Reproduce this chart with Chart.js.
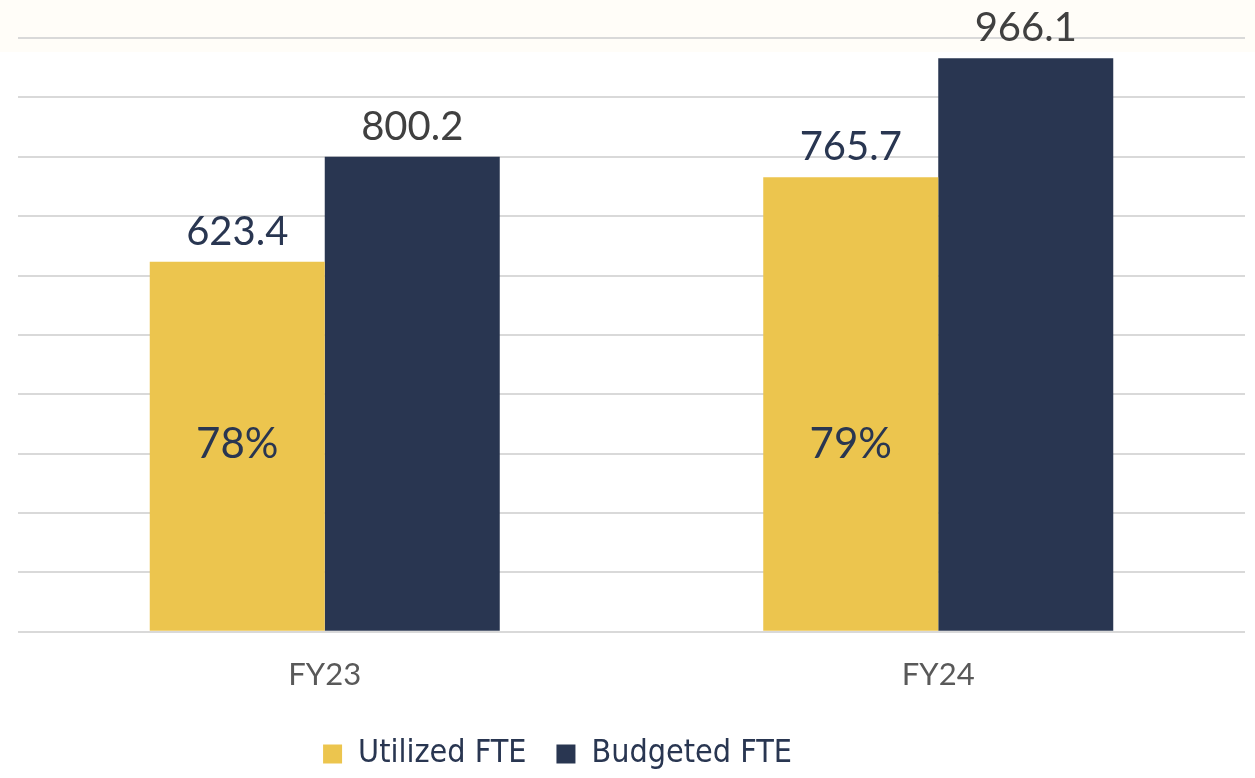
<!DOCTYPE html>
<html>
<head>
<meta charset="utf-8">
<script src="https://cdn.jsdelivr.net/npm/chart.js@4"></script>
<style>
  html, body { margin: 0; padding: 0; }
  body { width: 1255px; height: 778px; background: linear-gradient(to bottom, #fffdf8 0px, #fffdf8 52px, #ffffff 52px); }
  #wrap { position: relative; width: 1255px; height: 778px; }
</style>
</head>
<body>
<div id="wrap"><canvas id="c" width="1255" height="778"></canvas></div>
<script>
const categories = ['FY23', 'FY24'];
const utilizedFTE = [623.4, 765.7];
const budgetedFTE = [800.2, 966.1];
const utilizationPct = ['78%', '79%'];
const seriesNames = ['Utilized FTE', 'Budgeted FTE'];

const GOLD = '#ecc54e';
const NAVY = '#293651';
const GRAY = '#404040';
const FONT = "'DejaVu Sans Condensed', 'Liberation Sans Narrow', 'Lato', sans-serif";
const NUMFONT = "'Lato', 'Liberation Sans', sans-serif";

const labelPlugin = {
  id: 'labels',
  afterLayout(chart) {
    const lg = chart.legend;
    if (lg) {
      lg.left -= 74; lg.right -= 74;
      lg.top += 2; lg.bottom += 2;
    }
  },
  afterDatasetsDraw(chart) {
    const ctx = chart.ctx;
    const yScale = chart.scales.y;
    ctx.save();
    ctx.textAlign = 'center';
    ctx.textBaseline = 'bottom';
    ctx.font = '40px ' + NUMFONT;
    chart.data.datasets.forEach((ds, di) => {
      const meta = chart.getDatasetMeta(di);
      meta.data.forEach((bar, i) => {
        ctx.fillStyle = di === 0 ? NAVY : GRAY;
        ctx.fillText(ds.data[i].toFixed(1), bar.x, bar.y - 10);
      });
    });
    const m0 = chart.getDatasetMeta(0);
    ctx.textBaseline = 'middle';
    ctx.font = '42px ' + NUMFONT;
    ctx.fillStyle = NAVY;
    m0.data.forEach((bar, i) => {
      ctx.fillText(utilizationPct[i], bar.x, yScale.getPixelForValue(316));
    });
    ctx.restore();
  }
};

new Chart(document.getElementById('c'), {
  type: 'bar',
  data: {
    labels: categories,
    datasets: [
      { label: seriesNames[0], data: utilizedFTE, backgroundColor: GOLD },
      { label: seriesNames[1], data: budgetedFTE, backgroundColor: NAVY }
    ]
  },
  options: {
    responsive: false,
    animation: false,
    layout: { padding: { left: 18, right: 10, top: 38, bottom: 0 } },
    datasets: { bar: { categoryPercentage: 0.5705, barPercentage: 1.0 } },
    plugins: {
      tooltip: { enabled: false },
      legend: {
        position: 'bottom',
        labels: {
          color: NAVY,
          font: { family: FONT, size: 32 },
          boxWidth: 19,
          boxHeight: 19,
          padding: 30
        }
      }
    },
    scales: {
      x: {
        grid: { display: false },
        border: { display: false },
        ticks: { color: '#595959', font: { family: NUMFONT, size: 31 }, padding: 17 },
        afterFit(scale) { scale.height -= 5; }
      },
      y: {
        min: 0, max: 1000,
        ticks: { display: false, stepSize: 100 },
        border: { display: false },
        grid: { color: '#d9d9d9', lineWidth: 2, drawTicks: false }
      }
    }
  },
  plugins: [labelPlugin]
});
</script>
</body>
</html>
